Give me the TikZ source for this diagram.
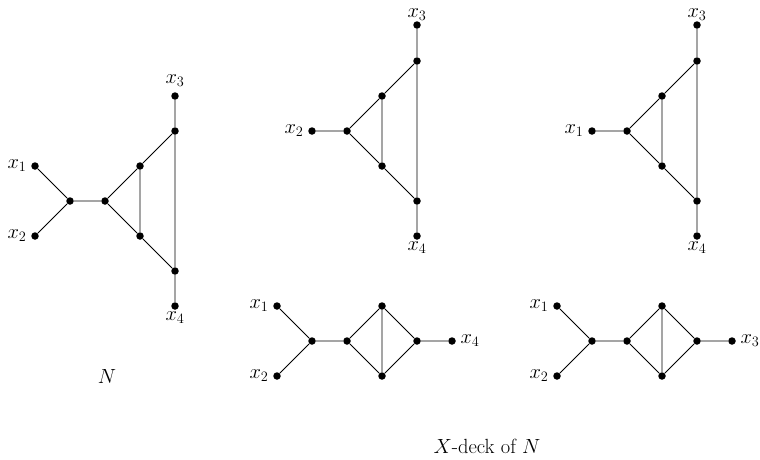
\documentclass[tikz,border=0pt]{standalone}
\usepackage{fix-cm}
\usetikzlibrary{positioning}
\begin{document}
\begin{tikzpicture}[x=1pt,y=-1pt,
  dot/.style={circle,fill=black,inner sep=0pt,minimum size=7.5pt},
  lbl/.style={font=\fontsize{20.5}{24}\selectfont,inner sep=1pt},
  every path/.style={line width=0.8pt}]
\useasboundingbox (0,0) rectangle (760,459);
% Graph N
\node[dot] (n1) at (35,166) {};
\node[dot] (n2) at (35,236) {};
\node[dot] (na) at (70,201) {};
\node[dot] (nb) at (105,201) {};
\node[dot] (nc) at (140,166) {};
\node[dot] (nd) at (140,236) {};
\node[dot] (ne) at (175,131) {};
\node[dot] (nf) at (175,271) {};
\node[dot] (n3) at (175,96) {};
\node[dot] (n4) at (175,306) {};
\node[lbl,left=3pt of n1] {$x_1$};
\node[lbl,left=3pt of n2] {$x_2$};
\node[lbl,above=4pt of n3] {$x_3$};
\node[lbl,below=0pt of n4] {$x_4$};
\draw (n1)--(na) (n2)--(na) (na)--(nb) (nb)--(nc) (nb)--(nd) (nc)--(nd) (nc)--(ne) (nd)--(nf) (n3)--(ne) (ne)--(nf) (nf)--(n4);
\node[lbl] (lN) at (107,376) {$N$};
% Top middle
\node[dot] (a3) at (417,25) {};
\node[dot] (ae) at (417,61) {};
\node[dot] (ac) at (382,96) {};
\node[dot] (ab) at (347,131) {};
\node[dot] (a2) at (312,131) {};
\node[dot] (ad) at (382,166) {};
\node[dot] (af) at (417,201) {};
\node[dot] (a4) at (417,236) {};
\node[lbl,left=3pt of a2] {$x_2$};
\node[lbl,above=-0.5pt of a3,inner sep=0pt] {$x_3$};
\node[lbl,below=0pt of a4] {$x_4$};
\draw (a2)--(ab) (ab)--(ac) (ab)--(ad) (ac)--(ad) (ac)--(ae) (ad)--(af) (a3)--(ae) (ae)--(af) (af)--(a4);
% Top right
\node[dot] (b3) at (697,25) {};
\node[dot] (be) at (697,61) {};
\node[dot] (bc) at (662,96) {};
\node[dot] (bb) at (627,131) {};
\node[dot] (b1) at (592,131) {};
\node[dot] (bd) at (662,166) {};
\node[dot] (bf) at (697,201) {};
\node[dot] (b4) at (697,236) {};
\node[lbl,left=3pt of b1] {$x_1$};
\node[lbl,above=-0.5pt of b3,inner sep=0pt] {$x_3$};
\node[lbl,below=0pt of b4] {$x_4$};
\draw (b1)--(bb) (bb)--(bc) (bb)--(bd) (bc)--(bd) (bc)--(be) (bd)--(bf) (b3)--(be) (be)--(bf) (bf)--(b4);
% Bottom middle
\node[dot] (c1) at (277,306) {};
\node[dot] (c2) at (277,376) {};
\node[dot] (ca) at (312,341) {};
\node[dot] (cb) at (347,341) {};
\node[dot] (cc) at (382,306) {};
\node[dot] (cd) at (382,376) {};
\node[dot] (cg) at (417,341) {};
\node[dot] (c4) at (452,341) {};
\node[lbl,left=3pt of c1] {$x_1$};
\node[lbl,left=3pt of c2] {$x_2$};
\node[lbl,right=3pt of c4] {$x_4$};
\draw (c1)--(ca) (c2)--(ca) (ca)--(cb) (cb)--(cc) (cb)--(cd) (cc)--(cd) (cc)--(cg) (cd)--(cg) (cg)--(c4);
% Bottom right
\node[dot] (d1) at (557,306) {};
\node[dot] (d2) at (557,376) {};
\node[dot] (da) at (592,341) {};
\node[dot] (db) at (627,341) {};
\node[dot] (dc) at (662,306) {};
\node[dot] (dd) at (662,376) {};
\node[dot] (dg) at (697,341) {};
\node[dot] (d3) at (732,341) {};
\node[lbl,left=3pt of d1] {$x_1$};
\node[lbl,left=3pt of d2] {$x_2$};
\node[lbl,right=3pt of d3] {$x_3$};
\draw (d1)--(da) (d2)--(da) (da)--(db) (db)--(dc) (db)--(dd) (dc)--(dd) (dc)--(dg) (dd)--(dg) (dg)--(d3);
\node[lbl] (deck) at (487,446) {$X$-deck of $N$};
\end{tikzpicture}
\end{document}
